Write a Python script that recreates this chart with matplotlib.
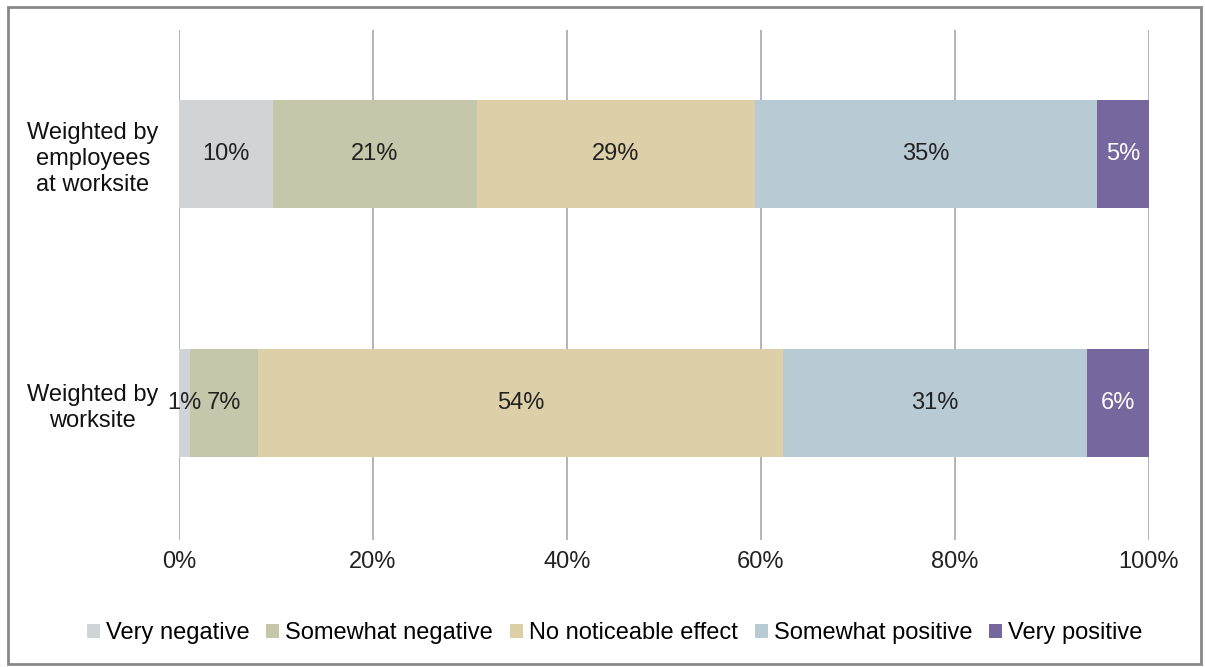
import matplotlib
matplotlib.use("Agg")
import matplotlib.pyplot as plt
from matplotlib.patches import Rectangle, Patch

plt.rcParams['font.family'] = ['Liberation Sans', 'DejaVu Sans']

categories = ["Weighted by\nworksite", "Weighted by\nemployees\nat worksite"]
series_names = ["Very negative", "Somewhat negative", "No noticeable effect",
                "Somewhat positive", "Very positive"]
# values per series: [worksite, employees]
very_negative = [1.1, 9.7]
somewhat_negative = [7.0, 21.0]
no_effect = [54.2, 28.7]
somewhat_positive = [31.3, 35.2]
very_positive = [6.4, 5.4]
labels_text = [["1%", "10%"], ["7%", "21%"], ["54%", "29%"], ["31%", "35%"], ["6%", "5%"]]

series = [very_negative, somewhat_negative, no_effect, somewhat_positive, very_positive]
colors = ["#D0D4D6", "#C4C7AA", "#DDD0A8", "#B8CAD3", "#76679E"]
text_colors = ["#222222", "#222222", "#222222", "#222222", "white"]

fig = plt.figure(figsize=(12.05, 6.67), dpi=100)
ax = fig.add_axes([0.1485, 0.190, 0.805, 0.765])

fs = 17
ypos = [0, 1]
left = [0.0, 0.0]
for s, vals in enumerate(series):
    ax.barh(ypos, vals, left=left, height=0.434, color=colors[s], label=series_names[s], zorder=2)
    for i, v in enumerate(vals):
        ax.text(left[i] + v / 2, ypos[i], labels_text[s][i], ha='center', va='center',
                fontsize=fs, color=text_colors[s], zorder=3)
    left = [left[i] + vals[i] for i in range(2)]

ax.set_xlim(0, 100)
ax.set_ylim(-0.55, 1.5)
ax.set_xticks([0, 20, 40, 60, 80, 100])
ax.set_xticklabels([f"{t}%" for t in [0, 20, 40, 60, 80, 100]], fontsize=fs, color="#222222")
ax.set_yticks(ypos)
ax.set_yticklabels(categories, fontsize=fs, color="#111111", ha='center', linespacing=1.25)
ax.tick_params(axis='y', length=0, pad=62)
ax.tick_params(axis='x', length=0, pad=8)
for sp in ax.spines.values():
    sp.set_visible(False)
ax.grid(axis='x', color="#A0A0A0", linewidth=1.1, zorder=0)
ax.set_axisbelow(True)

handles = [Patch(facecolor=c, edgecolor='none') for c in colors]
fig.legend(handles, series_names, loc='center', bbox_to_anchor=(0.51, 0.051), ncol=5,
           frameon=False, fontsize=fs, handlelength=0.55, handleheight=0.55,
           handletextpad=0.25, columnspacing=0.72)

fig.patches.append(Rectangle((0.007, 0.004), 0.99, 0.985, transform=fig.transFigure,
                             fill=False, edgecolor="#888888", linewidth=2))

fig.savefig("out.png", dpi=100, facecolor="white")
